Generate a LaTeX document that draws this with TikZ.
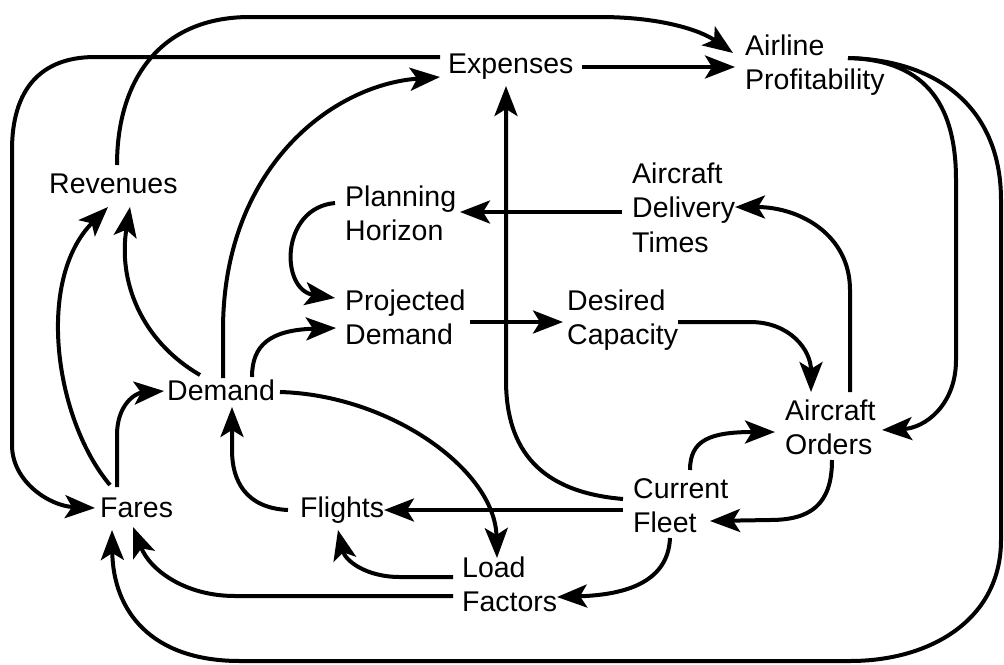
\documentclass[tikz,border=0pt]{standalone}
\usepackage{fontspec}
\newfontfamily\lab{Liberation Sans}
\usetikzlibrary{arrows.meta,calc}
% stacked, left-aligned lines whose baseline is the first line's
\newcommand\stk[1]{\begin{tabular}[t]{@{}l@{}}#1\end{tabular}}
\tikzset{
  term/.style={inner sep=0pt, anchor=base west, font=\lab\fontsize{28.5}{34.5}\selectfont},
  link/.style={line width=4pt, -{Stealth[length=30pt,width=23pt,inset=7pt]}},
}
\begin{document}
\begin{tikzpicture}[x=1pt,y=-1pt]
\useasboundingbox (0,0) rectangle (1004,664);

% variables
\node[term] (exp) at (448,73)  {\stk{Expenses}};
\node[term] (ap)  at (745,55)  {\stk{Airline\\Profitability}};
\node[term] (rev) at (49,193)  {\stk{Revenues}};
\node[term] (ph)  at (345,206) {\stk{Planning\\Horizon}};
\node[term] (adt) at (632,183) {\stk{Aircraft\\Delivery\\Times}};
\node[term] (pd)  at (345,310) {\stk{Projected\\Demand}};
\node[term] (dc)  at (567,310) {\stk{Desired\\Capacity}};
\node[term] (dem) at (167,400) {\stk{Demand}};
\node[term] (ao)  at (785,420) {\stk{Aircraft\\Orders}};
\node[term] (cf)  at (633,498) {\stk{Current\\Fleet}};
\node[term] (far) at (100,517) {\stk{Fares}};
\node[term] (fl)  at (300,517) {\stk{Flights}};
\node[term] (lf)  at (462,577) {\stk{Load\\Factors}};

% causal links
\draw[link] ($(rev.base west)+(68,-28)$) .. controls (117,80) and (160,17) .. (250,17)
  -- (600,17) .. controls (660,17) and (700,30) .. ($(ap.base west)+(-12,-2)$);
\draw[link] ($(exp.base west)+(-8,-16)$) -- (95,57) .. controls (40,57) and (12,90) .. (12,150)
  -- (12,445) .. controls (12,482) and (50,506) .. ($(far.base west)+(-5,-9)$);
\draw[link] ($(dem.base west)+(56,-22)$) -- (223,330) .. controls (223,170) and (330,85) .. ($(exp.base west)+(-8,4)$);
\draw[link] ($(exp.base west)+(134,-6)$) -- ($(ap.base west)+(-10,12)$);
\draw[link] ($(cf.base west)+(-10,1)$) .. controls (540,492) and (506,450) .. (506,380) -- ($(exp.base west)+(58,13)$);
\draw[link] ($(ap.base west)+(103,3)$) .. controls (930,60) and (956,110) .. (956,180)
  -- (956,360) .. controls (956,405) and (925,428) .. ($(ao.base west)+(97,10)$);
\draw[link] ($(ap.base west)+(103,3)$) .. controls (940,60) and (1001,110) .. (1001,200)
  -- (1001,540) .. controls (1001,620) and (930,661) .. (850,661)
  -- (240,661) .. controls (150,661) and (113,610) .. ($(far.base west)+(12,13)$);
\draw[link] ($(ao.base west)+(65,-28)$) -- (850,290) .. controls (850,235) and (800,207) .. ($(adt.base west)+(103,24)$);
\draw[link] ($(adt.base west)+(-10,29)$) -- ($(ph.base west)+(115,6)$);
\draw[link] ($(ph.base west)+(-10,-3)$) .. controls (280,208) and (280,290) .. ($(pd.base west)+(-10,-12)$);
\draw[link] ($(pd.base west)+(125,12)$) -- ($(dc.base west)+(-4,12)$);
\draw[link] ($(dc.base west)+(111,12)$) -- (750,322) .. controls (790,322) and (811,350) .. ($(ao.base west)+(26,-28)$);
\draw[link] ($(cf.base west)+(57,-28)$) .. controls (690,440) and (710,432) .. ($(ao.base west)+(-10,12)$);
\draw[link] ($(ao.base west)+(47,40)$) .. controls (832,505) and (810,520) .. (770,520) -- ($(cf.base west)+(77,23)$);
\draw[link] ($(cf.base west)+(-10,12)$) -- ($(fl.base west)+(84,-7)$);
\draw[link] ($(cf.base west)+(37,40)$) .. controls (668,585) and (620,595) .. ($(lf.base west)+(95,20)$);
\draw[link] ($(fl.base west)+(-12,-7)$) .. controls (245,508) and (232,480) .. (232,450) -- ($(dem.base west)+(65,7)$);
\draw[link] ($(dem.base west)+(113,-8)$) .. controls (390,395) and (495,470) .. ($(lf.base west)+(35,-19)$);
\draw[link] ($(lf.base west)+(-9,0)$) -- (400,577) .. controls (365,577) and (345,560) .. ($(fl.base west)+(38,13)$);
\draw[link] ($(lf.base west)+(-9,19)$) -- (235,596) .. controls (185,596) and (150,570) .. ($(far.base west)+(33,10)$);
\draw[link] ($(dem.base west)+(85,-23)$) .. controls (252,345) and (270,330) .. ($(pd.base west)+(-9,18)$);
\draw[link] ($(far.base west)+(17,-30)$) -- (117,435) .. controls (117,405) and (135,393) .. ($(dem.base west)+(-3,-9)$);
\draw[link] ($(far.base west)+(10,-32)$) .. controls (55,420) and (35,280) .. ($(rev.base west)+(59,14)$);
\draw[link] ($(dem.base west)+(33,-25)$) .. controls (140,340) and (118,280) .. ($(rev.base west)+(81,14)$);
\end{tikzpicture}
\end{document}
